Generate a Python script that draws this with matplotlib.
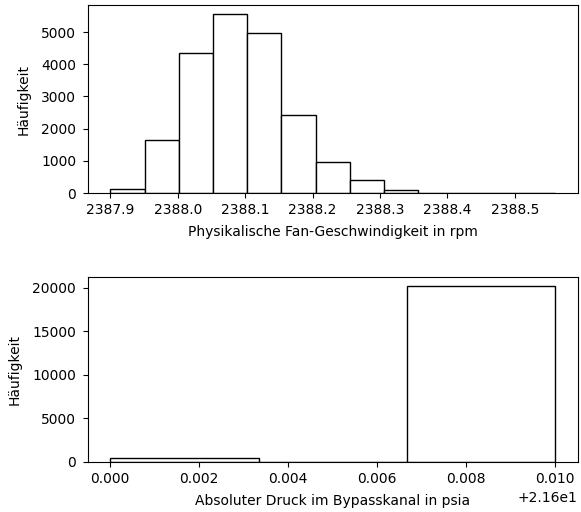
import numpy as np
import matplotlib
matplotlib.use('Agg')
import matplotlib.pyplot as plt

# Physikalische Fan-Geschwindigkeit (13 Klassen)
fan_edges = np.linspace(2387.90, 2388.56, 14)
fan_counts = [120, 1650, 4350, 5560, 4970, 2410, 960, 400, 90, 6, 3, 2, 1]

# Absoluter Druck im Bypasskanal (3 Klassen)
druck_edges = np.linspace(21.60, 21.61, 4)
druck_counts = [406, 0, 20225]

fig = plt.figure(figsize=(5.81, 5.12), dpi=100)

ax1 = fig.add_axes([0.1515, 0.623, 0.8425, 0.367])
ax1.hist(fan_edges[:-1], bins=fan_edges, weights=fan_counts,
         color='white', edgecolor='black')
ax1.set_xlabel('Physikalische Fan-Geschwindigkeit in rpm', labelpad=5.5)
ax1.set_ylabel('Häufigkeit', labelpad=7.5)

ax2 = fig.add_axes([0.1515, 0.0977, 0.8425, 0.3613])
ax2.hist(druck_edges[:-1], bins=druck_edges, weights=druck_counts,
         color='white', edgecolor='black')
ax2.set_xlabel('Absoluter Druck im Bypasskanal in psia', labelpad=5.5)
ax2.set_ylabel('Häufigkeit', labelpad=7.5)

for ax in (ax1, ax2):
    ax.tick_params(axis='x', pad=4)
    ax.tick_params(axis='y', pad=5)

fig.savefig('out.png', dpi=100)
